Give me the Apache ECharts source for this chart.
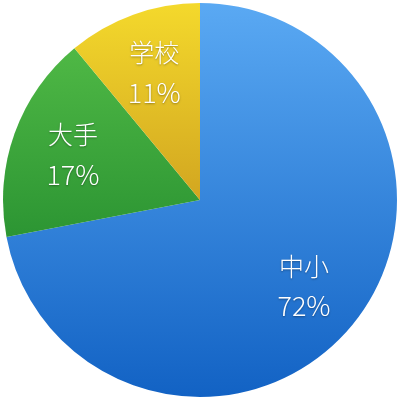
<!DOCTYPE html>
<html>
<head>
<meta charset="utf-8">
<script src="https://cdn.jsdelivr.net/npm/echarts@6/dist/echarts.min.js"></script>
<style>
  html, body { margin: 0; padding: 0; background: #fff; }
  #chart { width: 400px; height: 400px; }
</style>
</head>
<body>
<div id="chart"></div>
<script>
var names = ['中小', '大手', '学校'];
var values = [72, 17, 11];
var topColors = ['#5aa9f3', '#4fb845', '#f4d92c'];
var bottomColors = ['#1262c4', '#2c9533', '#d2a620'];

var chart = echarts.init(document.getElementById('chart'));

var pieData = names.map(function (n, i) {
    return {
        name: n,
        value: values[i],
        itemStyle: {
            color: new echarts.graphic.LinearGradient(0, 0, 0, 1, [
                { offset: 0, color: topColors[i] },
                { offset: 1, color: bottomColors[i] }
            ])
        }
    };
});

var labelData = names.map(function (n, i) {
    return { name: n, value: values[i] };
});

var option = {
    animation: false,
    series: [
        {
            type: 'pie',
            center: ['50%', '50%'],
            radius: [0, 197],
            startAngle: 90,
            clockwise: true,
            silent: true,
            label: { show: false },
            labelLine: { show: false },
            data: pieData
        },
        {
            // invisible pie only used to place the labels further out
            type: 'pie',
            center: ['50%', '50%'],
            radius: [0, 264],
            startAngle: 90,
            clockwise: true,
            silent: true,
            itemStyle: { color: 'rgba(0,0,0,0)' },
            label: {
                show: true,
                position: 'inside',
                formatter: '{b}\n{v|{c}%}',
                color: '#fff',
                fontSize: 25,
                fontWeight: 300,
                lineHeight: 40,
                fontFamily: '"Noto Sans CJK JP", "Noto Sans", sans-serif',
                textShadowColor: 'rgba(0,0,0,0.35)',
                textShadowBlur: 2,
                textShadowOffsetY: 1,
                rich: {
                    v: {
                        color: '#fff',
                        fontSize: 27,
                        fontWeight: 300,
                        lineHeight: 40,
                        fontFamily: '"Noto Sans CJK JP", "Noto Sans", sans-serif',
                        textShadowColor: 'rgba(0,0,0,0.35)',
                        textShadowBlur: 2,
                        textShadowOffsetY: 1
                    }
                }
            },
            labelLine: { show: false },
            data: labelData
        }
    ]
};
chart.setOption(option);
</script>
</body>
</html>
